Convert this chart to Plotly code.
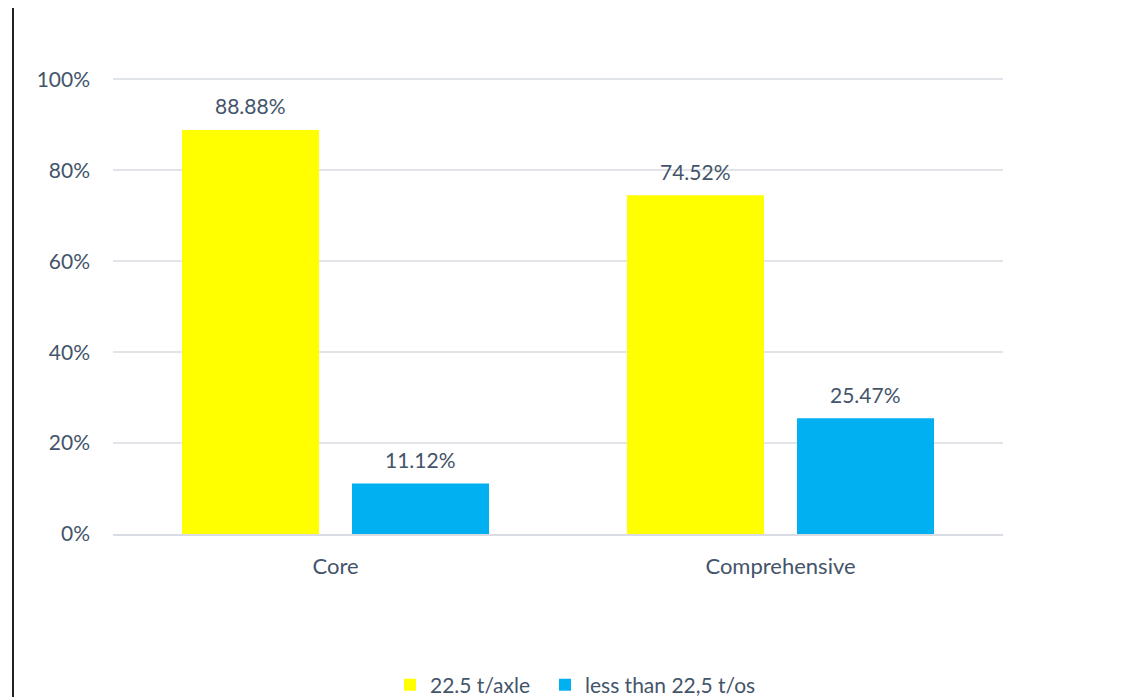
import plotly.graph_objects as go

categories = ["Core", "Comprehensive"]
series_names = ["22.5 t/axle", "less than 22,5 t/os"]
values_axle = [88.88, 74.52]
values_less = [11.12, 25.47]
colors = ["#FFFF00", "#00B0F0"]
y_ticks = [0, 20, 40, 60, 80, 100]

FONT = "Lato, Open Sans, sans-serif"
TXT = "#44546A"
FS = 21

W, H = 1114, 689
L, R, T, B = 105, 119, 70, 163
PW, PH = W - L - R, H - T - B

legend_refs = ["legend", "legend2"]
legend_left_px = [382, 537]

fig = go.Figure()
for name, vals, col, lg in zip(series_names, [values_axle, values_less], colors, legend_refs):
    fig.add_trace(go.Bar(
        x=categories, y=[v / 100 for v in vals], name=name,
        marker=dict(color=col, line=dict(width=0)),
        hoverinfo="x+y", legend=lg,
    ))

bargap, bargroupgap = 0.236, 0.194
slot = PW / len(categories) * (1 - bargap) / 2
annotations = []
for si, vals in enumerate([values_axle, values_less]):
    for cat, v in zip(categories, vals):
        annotations.append(dict(
            x=cat, y=v / 100, xref="x", yref="y", text=f"{v:.2f}%",
            showarrow=False, xshift=(si - 0.5) * slot, yshift=24,
            yanchor="middle", font=dict(size=FS, color=TXT, family=FONT),
        ))

fig.add_shape(type="line", xref="paper", yref="paper",
              x0=(5 - L) / PW, x1=(5 - L) / PW, y0=-B / PH, y1=1 + T / PH,
              line=dict(color="#222222", width=2))

def legend_style(left_px):
    return dict(orientation="h", x=(left_px - L) / PW, xanchor="left",
                yref="container", y=(H - 677) / H, yanchor="middle",
                font=dict(size=FS, color=TXT, family=FONT),
                bgcolor="rgba(0,0,0,0)", itemwidth=30)

fig.update_layout(
    width=W, height=H,
    margin=dict(l=L, r=R, t=T, b=B),
    paper_bgcolor="white", plot_bgcolor="white",
    barmode="group", bargap=bargap, bargroupgap=bargroupgap,
    font=dict(family=FONT, color=TXT, size=FS),
    showlegend=True,
    annotations=annotations,
    legend=legend_style(legend_left_px[0]),
    legend2=legend_style(legend_left_px[1]),
    xaxis=dict(showline=True, linecolor="#D9DDE3", linewidth=2, ticks="",
               ticklabelstandoff=12, tickfont=dict(size=22, color=TXT)),
    yaxis=dict(range=[0, 1.003], tickvals=[t / 100 for t in y_ticks],
               ticktext=[f"{t}%" for t in y_ticks], showgrid=True,
               gridcolor="#E1E4E8", gridwidth=1.5, zeroline=False,
               ticklabelstandoff=22, tickfont=dict(size=FS, color=TXT)),
)
fig.write_html("out.html")
